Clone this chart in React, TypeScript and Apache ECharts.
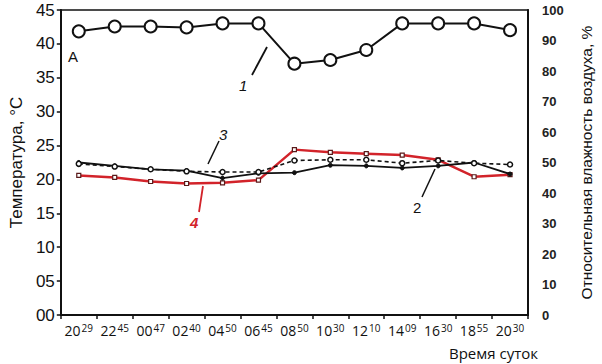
import React, { useEffect, useRef } from "react";
import * as echarts from "echarts";

const categories = ["20:29", "22:45", "00:47", "02:40", "04:50", "06:45", "08:50", "10:30", "12:10", "14:09", "16:30", "18:55", "20:30"];
const humidity1 = [93.0, 94.6, 94.6, 94.3, 95.6, 95.6, 82.4, 83.6, 86.9, 95.6, 95.6, 95.6, 93.4];
const temp2 = [22.5, 22.0, 21.5, 21.3, 20.2, 20.9, 21.0, 22.1, 22.0, 21.7, 22.0, 22.5, 20.8];
const temp3 = [22.3, 21.9, 21.5, 21.2, 21.1, 21.1, 22.8, 22.9, 22.9, 22.4, 22.8, 22.4, 22.2];
const temp4 = [20.6, 20.3, 19.7, 19.4, 19.5, 19.9, 24.4, 24.0, 23.8, 23.6, 22.9, 20.4, 20.7];
const leftTicks = ["00", "05", "10", "15", "20", "25", "30", "35", "40", "45"];

export default function App() {
  const ref = useRef<HTMLDivElement>(null);
  useEffect(() => {
    if (!ref.current) return;
    const chart = echarts.init(ref.current, null, { renderer: "svg" });
    const black = "#111";
    const red = "#d2232a";
    chart.setOption({
      animation: false,
      backgroundColor: "#fff",
      grid: { left: 47, right: 62, top: 10, bottom: 49, show: true, borderColor: black, borderWidth: 1.5 },
      xAxis: {
        type: "category",
        data: categories,
        boundaryGap: true,
        axisLine: { lineStyle: { color: black, width: 2 } },
        axisTick: { show: true, length: 4, lineStyle: { color: black, width: 1.5 } },
        axisLabel: {
          margin: 8,
          interval: 0,
          color: "#111",
          formatter: (v: string) => {
            const [h, m] = v.split(":");
            return `{a|${h}}{b|${m}}`;
          },
          rich: {
            a: { fontFamily: "Open Sans", fontSize: 14, color: "#111" },
            b: { fontFamily: "Open Sans", fontSize: 10, color: "#111", verticalAlign: "top", padding: [0, 0, 0, 1] },
          },
        },
      },
      yAxis: [
        {
          type: "value",
          min: 0,
          max: 45,
          interval: 5,
          name: "Температура, °C",
          nameLocation: "middle",
          nameRotate: 90,
          nameGap: 34,
          nameTextStyle: { fontFamily: "Liberation Sans", fontSize: 17, color: "#111" },
          axisLine: { show: true, lineStyle: { color: black, width: 2 } },
          axisTick: { show: true, length: 4, lineStyle: { color: black, width: 1.5 } },
          splitLine: { show: false },
          axisLabel: {
            margin: 6,
            fontFamily: "Liberation Sans",
            fontSize: 17,
            color: "#111",
            formatter: (v: number) => leftTicks[Math.round(v / 5)],
          },
        },
        {
          type: "value",
          min: 0,
          max: 100,
          interval: 10,
          name: "Относительная влажность воздуха, %",
          nameLocation: "middle",
          nameRotate: 90,
          nameGap: 50,
          nameTextStyle: { fontFamily: "Liberation Sans", fontSize: 15.5, color: "#111" },
          axisLine: { show: true, lineStyle: { color: black, width: 2 } },
          axisTick: { show: false },
          splitLine: { show: false },
          axisLabel: {
            margin: 14,
            fontFamily: "Liberation Sans",
            fontSize: 13,
            fontWeight: "bold",
            color: "#222",
          },
        },
      ],
      series: [
        {
          name: "1",
          type: "line",
          yAxisIndex: 1,
          data: humidity1,
          symbol: "circle",
          symbolSize: 12,
          lineStyle: { color: black, width: 2 },
          itemStyle: { color: "#fff", borderColor: black, borderWidth: 2 },
          z: 5,
        },
        {
          name: "2",
          type: "line",
          data: temp2,
          symbol: "circle",
          symbolSize: 4,
          lineStyle: { color: black, width: 1.8 },
          itemStyle: { color: black, borderColor: black, borderWidth: 1 },
          z: 3,
        },
        {
          name: "3",
          type: "line",
          data: temp3,
          symbol: "circle",
          symbolSize: 5,
          lineStyle: { color: black, width: 1.6, type: [4, 3] },
          itemStyle: { color: "#fff", borderColor: black, borderWidth: 1.5 },
          z: 4,
        },
        {
          name: "4",
          type: "line",
          data: temp4,
          symbol: "rect",
          symbolSize: 4,
          lineStyle: { color: red, width: 2.5 },
          itemStyle: { color: "#fff", borderColor: "#5a1a1a", borderWidth: 1.2 },
          z: 2,
        },
      ],
      graphic: [
        { type: "text", left: 68, top: 49, style: { text: "A", fontFamily: "Liberation Sans", fontSize: 15, fill: "#111" } },
        { type: "line", shape: { x1: 267, y1: 47, x2: 252, y2: 75 }, style: { stroke: black, lineWidth: 1.8 } },
        { type: "text", left: 239, top: 78, style: { text: "1", fontFamily: "Liberation Sans", fontSize: 15, fontStyle: "italic", fill: "#111" } },
        { type: "line", shape: { x1: 219, y1: 141, x2: 208, y2: 164 }, style: { stroke: black, lineWidth: 1.5 } },
        { type: "text", left: 219, top: 127, style: { text: "3", fontFamily: "Liberation Sans", fontSize: 15, fontStyle: "italic", fill: "#111" } },
        { type: "line", shape: { x1: 203, y1: 186, x2: 199, y2: 212 }, style: { stroke: red, lineWidth: 1.8 } },
        { type: "text", left: 190, top: 215, style: { text: "4", fontFamily: "Liberation Sans", fontSize: 15, fontStyle: "italic", fontWeight: "bold", fill: red } },
        { type: "line", shape: { x1: 435, y1: 169, x2: 422, y2: 197 }, style: { stroke: black, lineWidth: 1.5 } },
        { type: "text", left: 413, top: 200, style: { text: "2", fontFamily: "Liberation Sans", fontSize: 15, fill: "#111" } },
        { type: "text", right: 64, top: 345, style: { text: "Время суток", fontFamily: "Open Sans", fontSize: 15, fill: "#111" } },
      ],
    });
    return () => chart.dispose();
  }, []);
  return <div ref={ref} style={{ width: 602, height: 364, position: "absolute", left: 0, top: 0 }} />;
}
